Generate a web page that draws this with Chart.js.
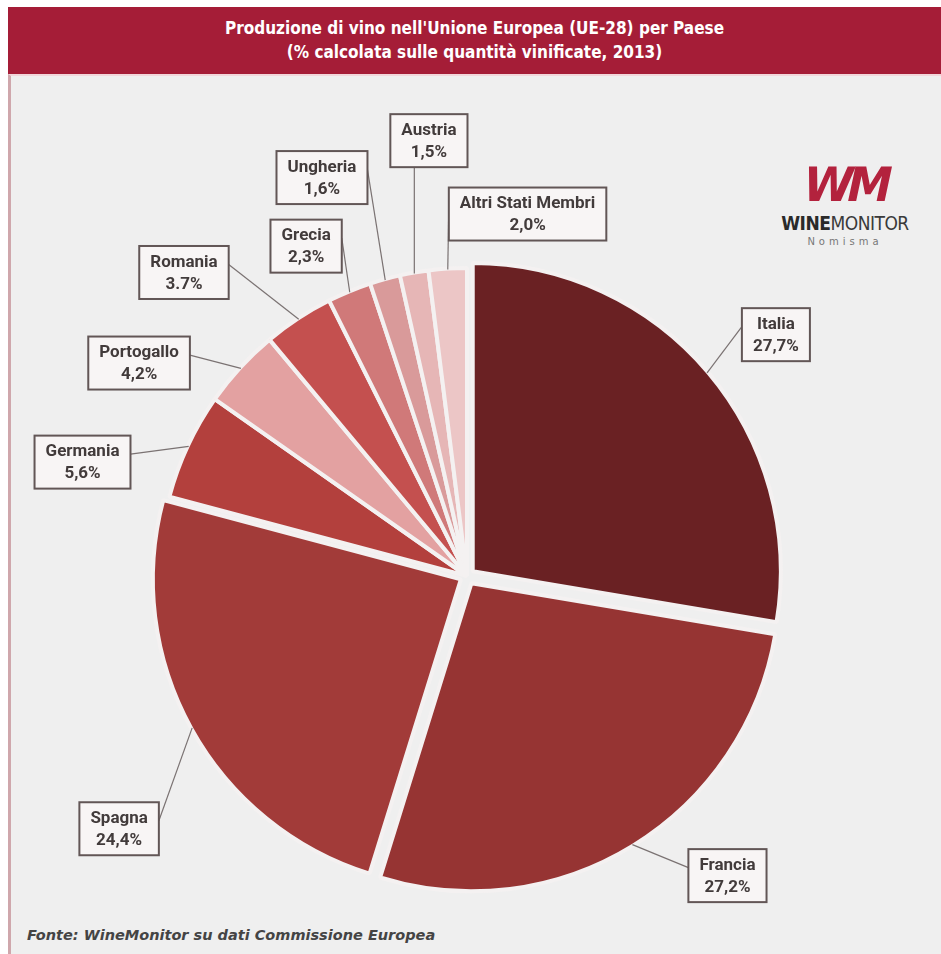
<!DOCTYPE html>
<html>
<head>
<meta charset="utf-8">
<script src="https://cdn.jsdelivr.net/npm/chart.js@4.4.0/dist/chart.umd.min.js"></script>
<style>
  body { margin: 0; width: 941px; height: 954px; overflow: hidden; position: relative; background: #fff; font-family: "DejaVu Sans Condensed", "DejaVu Sans", sans-serif; }
  #bar { position: absolute; left: 8px; top: 7px; width: 933px; height: 67px; background: #a51d37; color: #fff; font-weight: bold; font-size: 17px; line-height: 24px; text-align: center; padding-top: 9px; box-sizing: border-box; }
  #panel { position: absolute; left: 8px; top: 74px; right: 0; bottom: 0; background: #efefef; border-left: 3px solid #cfa7ac; border-top: 2px solid #f2d6da; }
  #logo { position: absolute; left: 780px; top: 160px; width: 130px; text-align: center; }
  #logo .mark { font-family: "DejaVu Sans Condensed", sans-serif; font-weight: bold; font-size: 50px; line-height: 50px; color: #b3223d; letter-spacing: -6px; transform: skewX(-12deg) scaleY(0.95); }
  #logo .name { font-family: "DejaVu Sans Condensed", sans-serif; font-size: 19px; line-height: 22px; color: #3a3a3a; letter-spacing: -0.5px; margin-top: 2px; }
  #logo .name b { font-weight: bold; color: #2a2a2a; }
  #logo .sub { font-family: "DejaVu Sans", sans-serif; font-size: 10px; color: #777; letter-spacing: 4px; margin-top: 2px; }
  #foot { position: absolute; left: 27px; top: 927px; font-family: "DejaVu Sans", sans-serif; font-style: italic; font-weight: bold; font-size: 14.5px; color: #444; }
  canvas { position: absolute; left: 0; top: 0; }
</style>
</head>
<body>
<div id="panel"></div>
<div id="bar">Produzione di vino nell'Unione Europea (UE-28) per Paese<br>(% calcolata sulle quantità vinificate, 2013)</div>
<div id="logo">
  <div class="mark">WM</div>
  <div class="name"><b>WINE</b>MONITOR</div>
  <div class="sub">Nomisma</div>
</div>
<div id="foot">Fonte: WineMonitor su dati Commissione Europea</div>
<canvas id="pie" width="941" height="954"></canvas>
<script>
// data
const countries = ['Italia', 'Francia', 'Spagna', 'Germania', 'Portogallo', 'Romania', 'Grecia', 'Ungheria', 'Austria', 'Altri Stati Membri']
const shares = [27.7, 27.2, 24.4, 5.6, 4.2, 3.7, 2.3, 1.6, 1.5, 2.0]
const shareLabels = ['27,7%', '27,2%', '24,4%', '5,6%', '4,2%', '3.7%', '2,3%', '1,6%', '1,5%', '2,0%']

const sliceColors = ['#6a2123', '#963433', '#a23b39', '#b3403d', '#e3a1a1', '#c4504f', '#d07979', '#d99a9a', '#e6b6b6', '#ecc6c6']
const sliceOffsets = [30, 34, 28, 0, 0, 0, 0, 0, 0, 0]

// where each label box sits: [angle in degrees, distance from centre in px]
const labelPlacement = [
  [-38, 392], [49, 397], [144, 430], [196.5, 401], [213, 391],
  [227, 415], [244, 367], [250, 424], [265, 437], [279.5, 367]
]

const labelBoxes = {
  id: 'labelBoxes',
  afterDatasetsDraw(chart) {
    const ctx = chart.ctx
    const arcs = chart.getDatasetMeta(0).data
    ctx.save()
    ctx.font = 'bold 17px Roboto'
    ctx.textAlign = 'center'
    ctx.textBaseline = 'middle'
    arcs.forEach((arc, i) => {
      const mid = (arc.startAngle + arc.endAngle) / 2
      const shift = (arc.options.offset || 0) / 4
      const ax = arc.x + Math.cos(mid) * (shift + arc.outerRadius - 1)
      const ay = arc.y + Math.sin(mid) * (shift + arc.outerRadius - 1)

      const a = labelPlacement[i][0] * Math.PI / 180
      const bx = arc.x + Math.cos(a) * labelPlacement[i][1]
      const by = arc.y + Math.sin(a) * labelPlacement[i][1]
      const lines = [countries[i], shareLabels[i]]
      const w = Math.max(...lines.map(t => ctx.measureText(t).width)) + 22
      const h = 53
      const left = bx - w / 2
      const top = by - h / 2

      let sx, sy
      if (ax >= left && ax <= left + w) {
        sx = ax
        sy = ay < top ? top : top + h
      } else {
        sx = ax < left ? left : left + w
        sy = by - 8
      }
      ctx.strokeStyle = '#7a7272'
      ctx.lineWidth = 1.2
      ctx.beginPath()
      ctx.moveTo(sx, sy)
      ctx.lineTo(ax, ay)
      ctx.stroke()

      ctx.fillStyle = '#f8f5f5'
      ctx.fillRect(left, top, w, h)
      ctx.strokeStyle = '#625656'
      ctx.lineWidth = 2
      ctx.strokeRect(left, top, w, h)

      ctx.fillStyle = '#423b3b'
      ctx.fillText(lines[0], bx, by - 10)
      ctx.fillText(lines[1], bx, by + 12)
    })
    ctx.restore()
  }
}

new Chart(document.getElementById('pie'), {
  type: 'pie',
  data: {
    labels: countries,
    datasets: [{
      data: shares,
      backgroundColor: sliceColors,
      borderColor: '#f4f1f1',
      borderWidth: 4,
      offset: sliceOffsets,
      hoverOffset: 0
    }]
  },
  options: {
    responsive: false,
    animation: false,
    radius: 308,
    layout: { padding: { left: 0, right: 7, top: 198, bottom: 0 } },
    plugins: {
      legend: { display: false },
      tooltip: { enabled: false }
    }
  },
  plugins: [labelBoxes]
})
</script>
</body>
</html>
